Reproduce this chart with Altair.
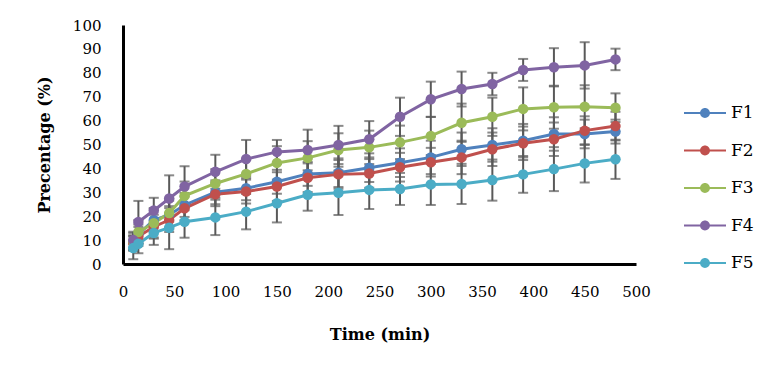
import altair as alt
import pandas as pd

times = [10, 15, 30, 45, 60, 90, 120, 150, 180, 210, 240, 270, 300, 330, 360, 390, 420, 450, 480]
series_names = ["F1", "F2", "F3", "F4", "F5"]
colors = ["#4F81BD", "#C0504D", "#9BBB59", "#8064A2", "#4BACC6"]

F1 = [9, 12.5, 18.4, 20.5, 24.7, 30, 31.7, 34.4, 37.7, 38.2, 40.3, 42.4, 44.6, 48, 49.8, 51.6, 54.4, 54.4, 55.4]
F2 = [8.8, 11.5, 15.6, 18.4, 23.3, 29.2, 30.3, 32.4, 36.1, 37.5, 37.9, 40.5, 42.6, 44.6, 48, 50.5, 52.2, 55.8, 57.7]
F3 = [9.5, 13.4, 17.1, 21.3, 28.5, 33.7, 37.7, 42.3, 44.4, 47.7, 48.8, 50.9, 53.6, 59.1, 61.6, 64.9, 65.6, 65.8, 65.4]
F4 = [10, 17.6, 22.4, 27.4, 32.4, 38.6, 43.9, 46.9, 47.7, 49.8, 52.2, 61.6, 68.9, 73.2, 75.3, 81.2, 82.3, 83.1, 85.6]
F5 = [6.7, 8.5, 13, 15.2, 17.7, 19.5, 21.9, 25.4, 29, 29.8, 31, 31.4, 33.3, 33.5, 35.1, 37.5, 39.7, 42.1, 43.8]

SD1 = [3, 4, 5, 6, 5, 5, 5, 5, 5, 6, 6, 6, 7, 7, 7, 7, 7, 6, 5]
SD2 = [3, 4, 5, 5, 5, 5, 5, 6, 6, 6, 6, 6, 6, 7, 7, 7, 7, 6, 6]
SD3 = [4, 5, 6, 6, 6, 6, 6, 7, 7, 7, 7, 7, 8, 8, 8, 9, 9, 9, 6]
SD4 = [3, 8.8, 5.3, 9.7, 8.5, 7.1, 8, 5, 8.5, 8, 7.6, 8, 7.4, 7.3, 4.7, 4.6, 8, 9.7, 4.5]
SD5 = [4.7, 4, 5, 9, 6.7, 7.4, 7.4, 8, 6.7, 9.3, 8, 6.7, 8.6, 8.4, 8.6, 7.7, 9.2, 8, 8.2]

x_ticks = [0, 50, 100, 150, 200, 250, 300, 350, 400, 450, 500]
y_ticks = [0, 10, 20, 30, 40, 50, 60, 70, 80, 90, 100]

rows = []
for name, vals, sds in zip(series_names, [F1, F2, F3, F4, F5], [SD1, SD2, SD3, SD4, SD5]):
    for t, v, s in zip(times, vals, sds):
        rows.append({"series": name, "time": t, "value": v, "lo": v - s, "hi": v + s})
df = pd.DataFrame(rows)

FONT = "DejaVu Serif"

x_scale = alt.Scale(domain=[0, 500], nice=False)
x_axis = alt.Axis(values=x_ticks, title="Time (min)", grid=False, ticks=False,
                  domainColor="black", domainWidth=3, labelPadding=20,
                  labelFlush=False, labelOverlap=False,
                  labelFont=FONT, labelFontSize=15, labelColor="black",
                  titleFont=FONT, titleFontSize=16, titleFontWeight="bold",
                  titleColor="black", titleX=256.5, titleY=70,
                  titleBaseline="middle", titleAlign="center")
y_scale = alt.Scale(domain=[0, 100], nice=False)
y_axis = alt.Axis(values=y_ticks, title="Precentage (%)", grid=False, ticks=False,
                  domainColor="black", domainWidth=3, labelPadding=22,
                  labelFlush=False, labelOverlap=False,
                  labelFont=FONT, labelFontSize=15, labelColor="black",
                  titleFont=FONT, titleFontSize=16, titleFontWeight="bold",
                  titleColor="black", titleX=-79, titleY=119.5,
                  titleBaseline="middle", titleAlign="center", titleAngle=-90)

def X():
    return alt.X("time:Q", scale=x_scale, axis=x_axis)

def Y(field):
    return alt.Y(field, scale=y_scale, axis=y_axis)

color_scale = alt.Scale(domain=series_names, range=colors)

legend_path = ("M-1.4,-0.07 L-0.3,-0.07 L-0.3,0.07 L-1.4,0.07 Z "
               "M0.3,-0.07 L1.4,-0.07 L1.4,0.07 L0.3,0.07 Z "
               "M-0.33,0 A0.33,0.33 0 1,1 0.33,0 A0.33,0.33 0 1,1 -0.33,0 Z")
legend = alt.Legend(title=None, orient="none", legendX=567, legendY=73,
                    symbolType=legend_path, symbolSize=900, symbolStrokeWidth=0,
                    symbolOpacity=1, labelOffset=11,
                    labelFont=FONT, labelFontSize=17, labelColor="black", rowPadding=14.5)

base = alt.Chart(df)

err = base.mark_rule(color="#595959", strokeWidth=2).encode(
    x=X(), y=Y("lo:Q"), y2="hi:Q", detail="series:N")
cap_lo = base.mark_tick(color="#595959", thickness=2, size=10, orient="horizontal").encode(
    x=X(), y=Y("lo:Q"))
cap_hi = base.mark_tick(color="#595959", thickness=2, size=10, orient="horizontal").encode(
    x=X(), y=Y("hi:Q"))

lines = base.mark_line(strokeWidth=3).encode(
    x=X(), y=Y("value:Q"),
    color=alt.Color("series:N", scale=color_scale, legend=legend))
points = base.mark_point(filled=True, size=110, opacity=1).encode(
    x=X(), y=Y("value:Q"),
    color=alt.Color("series:N", scale=color_scale, legend=legend))

chart = alt.layer(err, cap_lo, cap_hi, lines, points).properties(
    width=513, height=239,
    padding={"left": 115, "top": 17, "right": 133, "bottom": 105},
    autosize=alt.AutoSizeParams(type="none"),
    background="white",
).configure_view(stroke=None)

chart.save("out.html", embed_options={"renderer": "svg", "actions": False})
